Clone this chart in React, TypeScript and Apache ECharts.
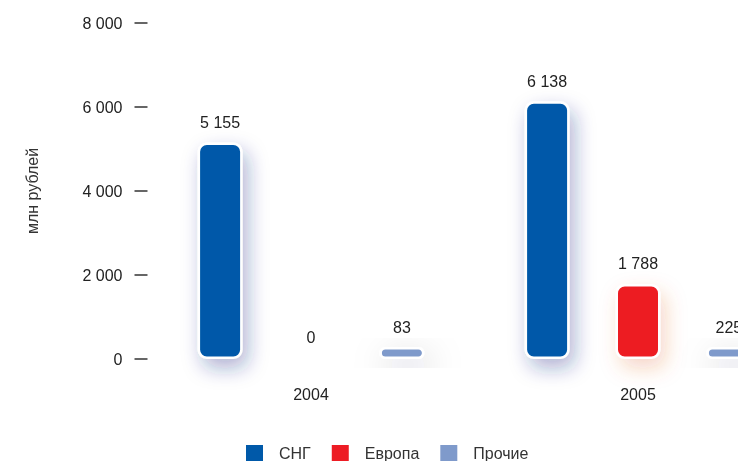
import React, { useEffect, useRef } from "react";
import * as echarts from "echarts";

const categories = ["2004", "2005"];
const seriesNames = ["СНГ", "Европа", "Прочие"];
const cisValues = [5155, 6138];
const europeValues = [0, 1788];
const otherValues = [83, 225];
const yTicks = [0, 2000, 4000, 6000, 8000];

const fmt = (v: number) =>
  String(Math.round(v)).replace(/\B(?=(\d{3})+(?!\d))/g, " ");

export default function App() {
  const ref = useRef<HTMLDivElement>(null);
  useEffect(() => {
    if (!ref.current) return;
    const chart = echarts.init(ref.current, undefined, { renderer: "svg" });
    const font = "'Liberation Sans', Arial, sans-serif";
    const label = {
      show: true,
      position: "top",
      distance: 12,
      color: "#222",
      fontSize: 16,
      fontFamily: font,
      formatter: (p: any) => fmt(p.value),
    };
    chart.setOption({
      animation: false,
      textStyle: { fontFamily: font },
      grid: {
        left: 147.5,
        top: 23,
        width: 654,
        height: 336,
        outerBoundsMode: "none",
        containLabel: false,
      },
      legend: {
        left: 244,
        top: 443,
        padding: 0,
        itemWidth: 19,
        itemHeight: 19,
        itemGap: 19,
        icon: "rect",
        data: seriesNames,
        textStyle: {
          fontSize: 16,
          color: "#333",
          fontFamily: font,
          padding: [0, 0, 0, 10],
        },
      },
      xAxis: {
        type: "category",
        data: categories,
        axisLine: { show: false },
        axisTick: { show: false },
        axisLabel: { fontSize: 16, color: "#222", margin: 27, fontFamily: font },
      },
      yAxis: {
        type: "value",
        min: yTicks[0],
        max: yTicks[yTicks.length - 1],
        interval: yTicks[1] - yTicks[0],
        name: "млн рублей",
        nameLocation: "middle",
        nameGap: 107,
        nameTextStyle: { fontSize: 16, color: "#333", fontFamily: font },
        axisLine: { show: false },
        axisTick: {
          show: true,
          length: 13,
          lineStyle: { color: "#333", width: 1.5 },
        },
        splitLine: { show: false },
        axisLabel: {
          fontSize: 16,
          color: "#222",
          margin: 25,
          fontFamily: font,
          formatter: (v: number) => fmt(v),
        },
      },
      series: [
        {
          name: seriesNames[0],
          type: "bar",
          data: cisValues,
          barWidth: 45,
          barGap: "102%",
          label,
          itemStyle: {
            color: "#0059A9",
            borderColor: "#fff",
            borderWidth: 2.5,
            borderRadius: 8,
            shadowBlur: 20,
            shadowOffsetX: 5,
            shadowOffsetY: 9,
            shadowColor: "rgba(20,40,130,0.35)",
          },
        },
        {
          name: seriesNames[1],
          type: "bar",
          data: europeValues,
          barWidth: 45,
          label,
          itemStyle: {
            color: "#ED1C24",
            borderColor: "#fff",
            borderWidth: 2.5,
            borderRadius: 8,
            shadowBlur: 20,
            shadowOffsetX: 5,
            shadowOffsetY: 9,
            shadowColor: "rgba(220,90,40,0.25)",
          },
        },
        {
          name: seriesNames[2],
          type: "bar",
          data: otherValues,
          barWidth: 45,
          barMinHeight: 12,
          label,
          itemStyle: {
            color: "#7F9ACB",
            borderColor: "#fff",
            borderWidth: 2.5,
            borderRadius: 6,
            shadowBlur: 34,
            shadowOffsetX: 6,
            shadowOffsetY: 12,
            shadowColor: "rgba(40,40,60,0.25)",
          },
        },
      ],
    });
    return () => chart.dispose();
  }, []);
  return (
    <div
      style={{
        position: "fixed",
        left: 0,
        top: 0,
        width: 738,
        height: 461,
        overflow: "hidden",
      }}
    >
      <div ref={ref} style={{ width: 830, height: 461 }} />
    </div>
  );
}
